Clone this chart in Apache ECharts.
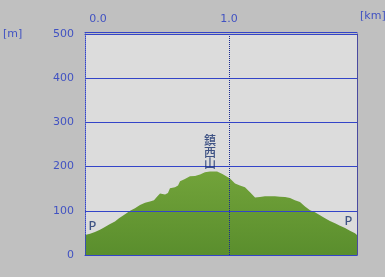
<!DOCTYPE html>
<html><head><meta charset="utf-8">
<script src="https://cdn.jsdelivr.net/npm/echarts@6/dist/echarts.min.js"></script>
<style>html,body{margin:0;padding:0;background:#c0c0c0}#c{width:385px;height:277px}</style>
</head><body><div id="c"></div>
<script>
// Distance along route (km) and elevation (m)
const distanceKm = [0.000,0.035,0.069,0.104,0.132,0.174,0.208,0.236,0.278,0.313,0.347,0.382,0.417,0.451,0.479,0.500,0.521,0.556,0.576,0.590,0.625,0.646,0.660,0.694,0.729,0.764,0.799,0.833,0.868,0.917,0.951,0.972,1.007,1.042,1.076,1.111,1.146,1.181,1.215,1.250,1.285,1.319,1.354,1.389,1.424,1.458,1.493,1.528,1.563,1.597,1.632,1.667,1.701,1.736,1.771,1.806,1.840,1.875,1.889];
const elevationM = [45,48,52,57,62,70,76,83,92,100,106,113,118,121,124,132,139,137,140,151,153,157,167,172,178,179,182,187,189,189,184,180,173,162,157,153,142,130,131,133,133,133,132,131,129,124,120,110,101,97,90,83,77,72,66,61,55,49,45];
const yTickLabels = [0,100,200,300,400,500];
const xTickLabels = [0.0,1.0];
const markerKm = [0.052,0.868,1.830];
const markerElev = [50,189,60];
const markerText = ['P','鎮西山','P'];

const BLUE = '#3344c8';
const TXT = '#4152c2';
const xMax = distanceKm[distanceKm.length-1];
const chart = echarts.init(document.getElementById('c'), null, {renderer:'canvas'});
const hidden = {show:false};
chart.setOption({
  backgroundColor:'#c0c0c0',
  animation:false,
  grid:{left:85, top:34, right:28, bottom:22, show:true, backgroundColor:'#dcdcdc', borderWidth:0},
  xAxis:[
    {type:'value', position:'top', min:0, max:xMax, interval:1, z:3,
     axisLine:{show:true, onZero:false, lineStyle:{color:BLUE,width:1}},
     axisTick:hidden,
     splitLine:{show:true, lineStyle:{color:'#1a2a90', type:[1,1], width:1}},
     axisLabel:{show:true, margin:9, color:TXT, fontFamily:'DejaVu Sans', fontSize:11, showMaxLabel:false,
       formatter:v => v===0 ? '{m|'+xTickLabels[0].toFixed(1)+'}' : (xTickLabels.includes(v) ? v.toFixed(1) : ''),
       rich:{m:{padding:[0,0,0,26], color:TXT, fontFamily:'DejaVu Sans', fontSize:11}}}},
    {type:'value', position:'bottom', min:0, max:xMax, z:3,
     axisLine:{show:true, onZero:false, lineStyle:{color:BLUE,width:1}},
     axisTick:hidden, splitLine:hidden, axisLabel:hidden},
    {type:'value', position:'top', offset:2, min:0, max:xMax, z:3,
     axisLine:{show:true, onZero:false, lineStyle:{color:BLUE,width:1}},
     axisTick:hidden, splitLine:hidden, axisLabel:hidden}
  ],
  yAxis:[
    {type:'value', min:0, max:500, interval:100, z:3,
     axisLine:{show:true, onZero:false, lineStyle:{color:BLUE, type:[1,1], width:1}},
     axisTick:hidden,
     splitLine:{show:true, lineStyle:{color:BLUE, width:1}},
     axisLabel:{margin:11, color:TXT, fontFamily:'DejaVu Sans', fontSize:11,
       formatter:v => yTickLabels.includes(v) ? String(v) : ''}},
    {type:'value', position:'right', min:0, max:500, z:3,
     axisLine:{show:true, onZero:false, lineStyle:{color:'#4a4aa0', width:1}},
     axisTick:hidden, splitLine:hidden, axisLabel:hidden}
  ],
  series:[
    {type:'line', xAxisIndex:0, yAxisIndex:0, symbol:'none', silent:true, z:1,
     data:distanceKm.map((d,i)=>[d, elevationM[i]]),
     lineStyle:{width:0},
     areaStyle:{opacity:1, color:new echarts.graphic.LinearGradient(0,0,0,1,[{offset:0,color:'#72a33a'},{offset:1,color:'#5a8e2d'}])}},
    {type:'scatter', xAxisIndex:0, yAxisIndex:0, symbolSize:0, silent:true, z:4,
     data:markerKm.map((d,i)=>({value:[d, markerElev[i]], name:markerText[i]})),
     label:{show:true, position:'top', distance:2,
       formatter:p => p.name.split('').map(c => '{c|'+c+'}').join('\n'),
       rich:{c:{color:'#16306e', fontFamily:'"Noto Sans CJK JP", "DejaVu Sans"', fontSize:12, fontWeight:500, lineHeight:11.5, height:11.5}}}}
  ],
  graphic:[
    {type:'text', left:3, top:29, style:{text:'[m]', fill:TXT, font:'11px "DejaVu Sans"'}},
    {type:'text', left:360, top:11, style:{text:'[km]', fill:TXT, font:'11px "DejaVu Sans"'}}
  ]
});
</script></body></html>
